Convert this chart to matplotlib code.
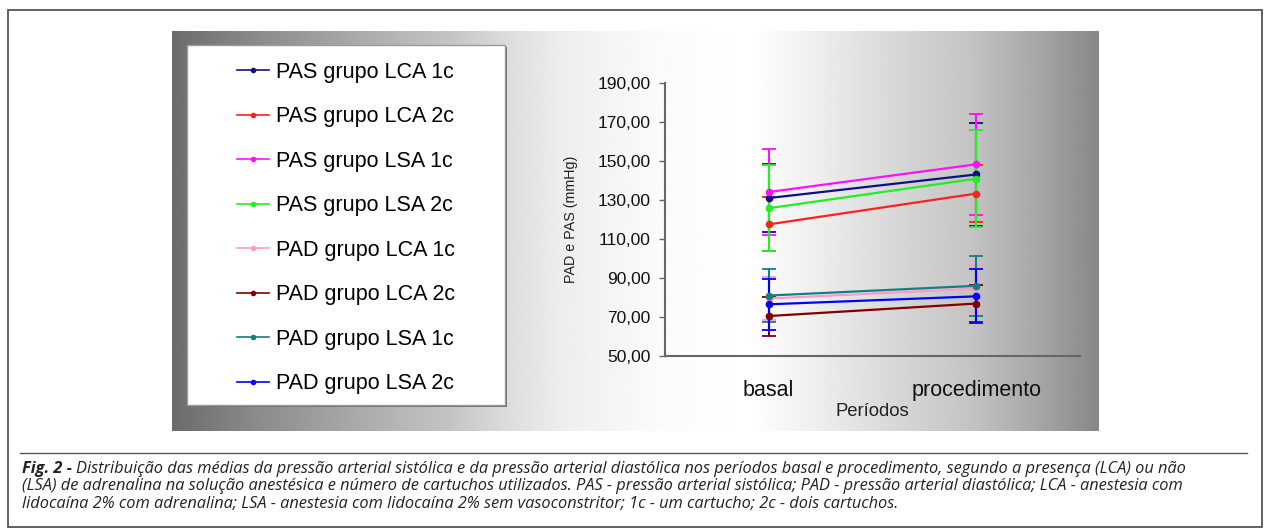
import numpy as np
import matplotlib
matplotlib.use("Agg")
import matplotlib.pyplot as plt
from matplotlib.patches import Rectangle
from matplotlib.lines import Line2D

# ---------------- data ----------------
periods = ["basal", "procedimento"]
series_labels = ["PAS grupo LCA 1c", "PAS grupo LCA 2c", "PAS grupo LSA 1c", "PAS grupo LSA 2c",
                 "PAD grupo LCA 1c", "PAD grupo LCA 2c", "PAD grupo LSA 1c", "PAD grupo LSA 2c"]
pas_lca_1c = [131.0, 143.1]
pas_lca_2c = [117.5, 133.3]
pas_lsa_1c = [134.1, 148.3]
pas_lsa_2c = [125.8, 140.9]
pad_lca_1c = [79.5, 84.5]
pad_lca_2c = [70.5, 76.9]
pad_lsa_1c = [81.0, 86.0]
pad_lsa_2c = [76.5, 80.6]
sd_pas_lca_1c = [17.6, 26.5]
sd_pas_lca_2c = [13.8, 14.4]
sd_pas_lsa_1c = [22.0, 26.0]
sd_pas_lsa_2c = [22.2, 25.0]
sd_pad_lca_1c = [11.0, 12.0]
sd_pad_lca_2c = [10.0, 9.6]
sd_pad_lsa_1c = [13.4, 15.3]
sd_pad_lsa_2c = [13.0, 13.8]
yticks = [50, 70, 90, 110, 130, 150, 170, 190]
ytick_labels = ["50,00", "70,00", "90,00", "110,00", "130,00", "150,00", "170,00", "190,00"]
caption_bold = "Fig. 2 - "
caption_line1 = ("Distribuição das médias da pressão arterial sistólica e da pressão arterial diastólica "
                 "nos períodos basal e procedimento, segundo a presença (LCA) ou não")
caption_line2 = ("(LSA) de adrenalina na solução anestésica e número de cartuchos utilizados. PAS - pressão "
                 "arterial sistólica; PAD - pressão arterial diastólica; LCA - anestesia com")
caption_line3 = ("lidocaína 2% com adrenalina; LSA - anestesia com lidocaína 2% sem vasoconstritor; "
                 "1c - um cartucho; 2c - dois cartuchos.")

means = [pas_lca_1c, pas_lca_2c, pas_lsa_1c, pas_lsa_2c, pad_lca_1c, pad_lca_2c, pad_lsa_1c, pad_lsa_2c]
sds = [sd_pas_lca_1c, sd_pas_lca_2c, sd_pas_lsa_1c, sd_pas_lsa_2c,
       sd_pad_lca_1c, sd_pad_lca_2c, sd_pad_lsa_1c, sd_pad_lsa_2c]
colors = ["#101080", "#ff2020", "#ff10ff", "#22ee22", "#ff99cc", "#800000", "#108080", "#0000ff"]

# ---------------- figure ----------------
W, H = 1265, 532
fig = plt.figure(figsize=(W / 100, H / 100), dpi=100)
fig.patch.set_facecolor("white")

def fx(px):
    return px / W

def fy(py):
    return 1 - py / H

# outer border
fig.patches.append(Rectangle((fx(8), fy(527)), fx(1262) - fx(8), fy(10) - fy(527),
                             transform=fig.transFigure, fill=False, edgecolor="#555555",
                             linewidth=1.3, zorder=0))

# gradient background panel
bg = fig.add_axes([fx(172), fy(431), fx(1099) - fx(172), fy(31) - fy(431)], zorder=-1)
gx = np.arange(172, 1100)
cx = [172, 260, 360, 450, 505, 560, 650, 750, 820, 900, 970, 1040, 1099]
cv = [0.42, 0.55, 0.67, 0.77, 0.86, 0.93, 0.98, 1.0, 0.93, 0.84, 0.77, 0.65, 0.53]
grad = np.interp(gx, cx, cv)[None, :]
bg.imshow(grad, cmap="gray", vmin=0, vmax=1, aspect="auto", interpolation="bilinear")
bg.set_axis_off()

# legend box with shadow
fig.patches.append(Rectangle((fx(189), fy(407)), fx(507) - fx(189), fy(47) - fy(407),
                             transform=fig.transFigure, facecolor="#707070", edgecolor="none",
                             zorder=1))
fig.patches.append(Rectangle((fx(187), fy(405)), fx(505) - fx(187), fy(45) - fy(405),
                             transform=fig.transFigure, facecolor="white", edgecolor="#9a9a9a",
                             linewidth=1.0, zorder=1.1))

# main axes
ax = fig.add_axes([fx(665), fy(356), fx(1080) - fx(665), fy(83) - fy(356)], zorder=2)
ax.set_facecolor("none")
x = np.arange(len(periods))
handles = []
for m, s, c, lab in zip(means, sds, colors, series_labels):
    ax.errorbar(x, m, yerr=s, color=c, ecolor=c, elinewidth=1.5, capsize=5, capthick=1.3,
                marker="o", markersize=4.5, linewidth=1.6, label=lab)
    handles.append(Line2D([0], [0], color=c, marker="o", markersize=3, linewidth=1.2))

ax.set_xlim(-0.5, 1.5)
ax.set_ylim(50, 190)
ax.set_xticks(x)
ax.set_xticklabels(periods, fontsize=15.5, family="Liberation Sans")
ax.set_yticks(yticks)
ax.set_yticklabels(ytick_labels, fontsize=12.5, family="Liberation Sans")
ax.tick_params(axis="x", length=0, pad=17, colors="#111111")
ax.tick_params(axis="y", length=4, width=1, color="#666666", pad=6.5, labelcolor="#111111")
for sp in ["top", "right"]:
    ax.spines[sp].set_visible(False)
for sp in ["left", "bottom"]:
    ax.spines[sp].set_color("#666666")
    ax.spines[sp].set_linewidth(1.5)
ax.set_xlabel("Períodos", fontsize=13.3, family="Liberation Sans", labelpad=2, color="#222222")
ax.set_ylabel("PAD e PAS (mmHg)", fontsize=10.3, family="Liberation Sans", color="#222222")
ax.yaxis.set_label_coords((578 - 665) / 415, 0.5)

# legend
leg = fig.legend(handles, series_labels, loc="upper left",
                 bbox_to_anchor=(fx(237), fy(62)), frameon=False,
                 prop={"family": "Liberation Sans", "size": 15.5},
                 handlelength=1.5, handletextpad=0.33, labelspacing=1.09,
                 borderpad=0, borderaxespad=0)
leg.set_zorder(3)

# caption
fig.lines.append(Line2D([fx(20), fx(1247)], [fy(453), fy(453)], transform=fig.transFigure,
                        color="#555555", linewidth=1.0))
cap_font = dict(family="Open Sans", size=11.8, style="italic", color="#222222")
t0 = fig.text(fx(22), fy(469), caption_bold, va="center", ha="left",
              fontweight="bold", **cap_font)
fig.add_artist(matplotlib.text.Annotation(caption_line1, xy=(1, 0.5), xycoords=t0,
                                          va="center", ha="left", **cap_font))
fig.text(fx(22), fy(486.5), caption_line2, va="center", ha="left", **cap_font)
fig.text(fx(22), fy(504), caption_line3, va="center", ha="left", **cap_font)

fig.savefig("out.png", dpi=100, facecolor="white")
